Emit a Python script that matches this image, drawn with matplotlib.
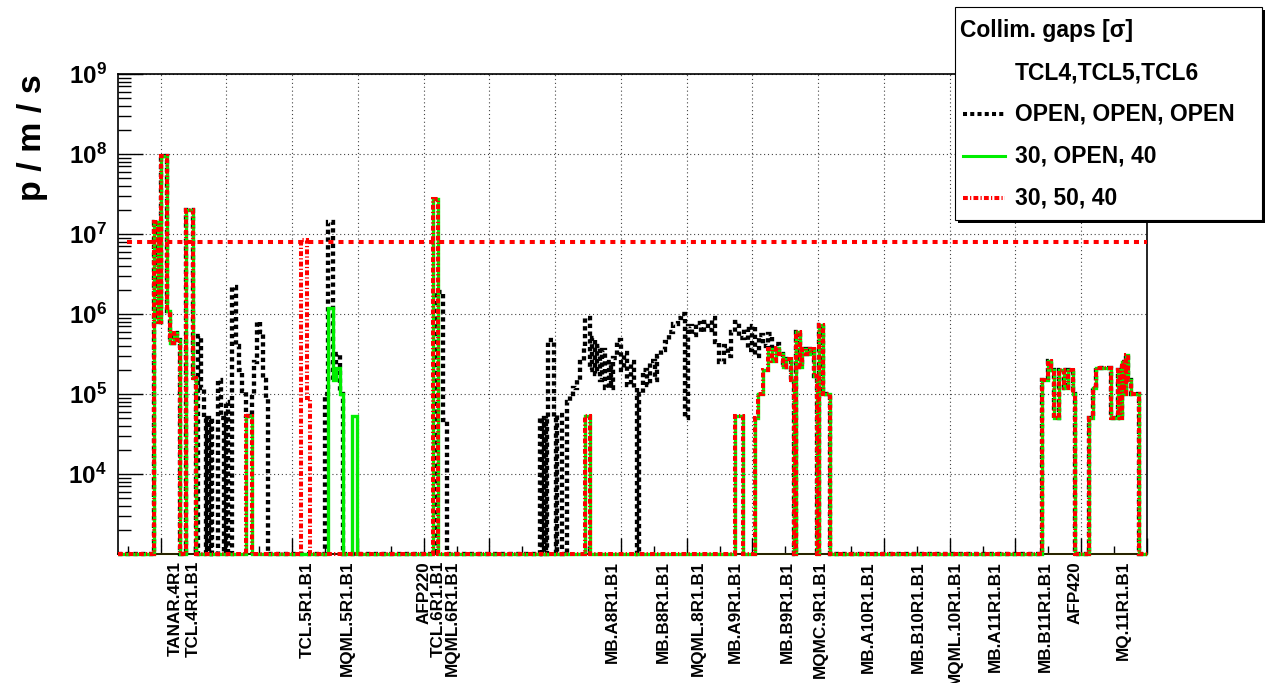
import numpy as np
import matplotlib
matplotlib.use("Agg")
import matplotlib.pyplot as plt
from matplotlib.patches import Rectangle
from matplotlib.lines import Line2D
from matplotlib.ticker import MultipleLocator, LogLocator, NullFormatter

plt.rcParams['font.family'] = ['Liberation Sans', 'DejaVu Sans']
plt.rcParams['font.weight'] = 'bold'
plt.rcParams['mathtext.fontset'] = 'custom'
plt.rcParams['mathtext.rm'] = 'Liberation Sans:bold'
plt.rcParams['mathtext.bf'] = 'Liberation Sans:bold'
plt.rcParams['mathtext.it'] = 'Liberation Sans:bold:italic'

# longitudinal position s [m] where each bin starts, loss rate [p/m/s] (0 = no loss)
S_MIN, S_MAX = 127.0, 440.0

open_s = [127.0, 138.0, 139.3, 140.1, 141.9, 142.8, 144.0, 145.0,
          145.9, 147.7, 149.8, 150.7, 151.4, 152.3, 153.2, 153.7,
          154.2, 154.7, 155.2, 155.7, 157.4, 158.4, 159.3, 159.9,
          160.5, 161.7, 162.9, 163.8, 164.8, 166.0, 167.8, 168.4,
          169.3, 170.2, 171.1, 172.1, 172.7, 190.0, 190.9, 192.4,
          193.4, 194.6, 195.5, 223.5, 225.9, 227.2, 255.5, 256.1,
          256.7, 257.3, 257.6, 257.9, 259.7, 260.3, 260.6, 262.2,
          263.7, 264.6, 265.5, 266.7, 267.6, 268.6, 269.2, 270.7,
          271.3, 272.2, 272.8, 273.7, 274.3, 275.2, 276.2, 277.1,
          277.7, 278.9, 280.1, 281.0, 281.9, 282.9, 284.1, 285.0,
          285.6, 286.8, 288.0, 288.9, 290.2, 291.1, 292.3, 293.5,
          294.7, 295.9, 297.2, 298.4, 299.6, 300.5, 301.7, 302.9,
          304.2, 305.4, 306.6, 307.8, 308.7, 309.9, 311.2, 312.4,
          313.6, 314.8, 316.0, 317.3, 318.5, 319.7, 320.9, 322.1,
          323.3, 324.6, 325.8, 327.0, 328.2, 329.4, 330.3, 331.6,
          332.5, 333.1, 334.3, 335.2, 336.4, 337.6, 338.6, 339.5,
          340.1, 341.3, 343.7, 408.0, 409.8, 410.7, 411.6, 413.1,
          414.7, 415.9, 417.4, 418.0, 422.3, 423.5, 424.4, 429.0,
          431.1, 431.7, 432.3, 432.9, 433.5, 434.1, 435.1, 437.5]
open_rate = [0, 1.4e7, 8e5, 9.5e7, 1.1e6, 4.4e5, 5.8e5, 4.7e5,
             0, 2e7, 1.6e5, 0, 5.3e5, 1.2e5, 5e4, 0,
             5e4, 0, 5e4, 0, 1.5e5, 5e4, 0, 8e4,
             0, 2.2e6, 4e5, 2e5, 1.1e5, 5.3e4, 1e5, 2.5e5,
             8e5, 6e5, 1.5e5, 9e4, 0, 1e5, 1.4e7, 1.5e5,
             3.2e5, 1e5, 0, 1.9e6, 4.8e4, 0, 5e4, 0,
             5e4, 0, 5e4, 4.7e5, 5e4, 0, 5.5e4, 0,
             8e4, 1e5, 1.2e5, 1.5e5, 2.5e5, 4e5, 9e5, 2e5,
             5e5, 1.8e5, 4e5, 1.5e5, 3.5e5, 1.2e5, 2.5e5, 1.2e5,
             2.8e5, 4.7e5, 2e5, 3.3e5, 1.3e5, 2.5e5, 1.2e5, 0,
             1e5, 2e5, 1.3e5, 2.6e5, 1.5e5, 3e5, 3.5e5, 4.5e5,
             6e5, 7.5e5, 9e5, 1e6, 5e4, 7e5, 5.5e5, 7.7e5,
             6e5, 8e5, 6.3e5, 9e5, 4.5e5, 2.5e5, 4e5, 3e5,
             6e5, 8e5, 5e5, 6.5e5, 3.5e5, 7e5, 3e5, 5.5e5,
             4e5, 5.7e5, 3.5e5, 4.2e5, 3.2e5, 2.2e5, 2.7e5, 1.5e5,
             0, 6e5, 2.2e5, 3.6e5, 3.2e5, 3.6e5, 1.7e5, 0,
             7.3e5, 1e5, 0, 1.5e5, 2.6e5, 2e5, 5e4, 2e5,
             1.2e5, 2e5, 1e5, 0, 5e4, 1.2e5, 2.1e5, 5e4,
             2e5, 5e4, 2.5e5, 1e5, 3.1e5, 1.5e5, 1e5, 0]

tcl4_s = [127.0, 138.0, 139.3, 140.1, 141.9, 142.8, 144.0, 145.0,
          145.9, 147.7, 149.8, 150.7, 166.0, 167.8, 190.9, 192.4,
          193.4, 194.6, 195.5, 198.2, 199.8, 222.9, 224.4, 268.9,
          270.7, 314.8, 317.0, 320.9, 321.8, 323.3, 324.6, 325.8,
          327.0, 328.2, 329.4, 330.3, 331.6, 332.5, 333.1, 334.3,
          335.2, 336.4, 337.6, 338.6, 339.5, 340.1, 341.3, 343.7,
          408.0, 409.8, 410.7, 411.6, 413.1, 414.7, 415.9, 417.4,
          418.0, 422.3, 423.5, 424.4, 429.0, 431.1, 431.7, 432.3,
          432.9, 433.5, 434.1, 435.1, 437.5]
tcl4_rate = [0, 1.4e7, 8e5, 9.5e7, 1.1e6, 4.4e5, 5.8e5, 4.7e5,
             0, 2e7, 1.6e5, 0, 5.3e4, 0, 1.2e6, 1.5e5,
             2.1e5, 1e5, 0, 5.3e4, 0, 2.7e7, 0, 5.3e4,
             0, 5.3e4, 0, 5e4, 1e5, 2e5, 3.6e5, 2.6e5,
             3.8e5, 3.2e5, 2.2e5, 2.7e5, 1.5e5, 0, 6e5, 2.2e5,
             3.6e5, 3.2e5, 3.6e5, 1.7e5, 0, 7.3e5, 1e5, 0,
             1.5e5, 2.6e5, 2e5, 5e4, 2e5, 1.2e5, 2e5, 1e5,
             0, 5e4, 1.2e5, 2.1e5, 5e4, 2e5, 5e4, 2.5e5,
             1e5, 3.1e5, 1.5e5, 1e5, 0]

tcl45_s = [127.0, 138.0, 139.3, 140.1, 141.9, 142.8, 144.0, 145.0,
           145.9, 147.7, 149.8, 150.7, 166.0, 167.8, 182.7, 184.5,
           185.4, 222.9, 224.4, 268.9, 270.7, 314.8, 317.0, 320.9,
           321.8, 323.3, 324.6, 325.8, 327.0, 328.2, 329.4, 330.3,
           331.6, 332.5, 333.1, 334.3, 335.2, 336.4, 337.6, 338.6,
           339.5, 340.1, 341.3, 343.7,
           408.0, 409.8, 410.7, 411.6, 413.1, 414.7, 415.9, 417.4,
           418.0, 422.3, 423.5, 424.4, 429.0, 431.1, 431.7, 432.3,
           432.9, 433.5, 434.1, 435.1, 437.5]
tcl45_rate = [0, 1.4e7, 8e5, 9.5e7, 1.1e6, 4.4e5, 5.8e5, 4.7e5,
              0, 2e7, 1.6e5, 0, 5.3e4, 0, 8.5e6, 9e4,
              0, 2.7e7, 0, 5.3e4, 0, 5.3e4, 0, 5e4,
              1e5, 2e5, 3.6e5, 2.6e5, 3.8e5, 3.2e5, 2.2e5, 2.7e5,
              1.5e5, 0, 6e5, 2.2e5, 3.6e5, 3.2e5, 3.6e5, 1.7e5,
              0, 7.3e5, 1e5, 0,
              1.5e5, 2.6e5, 2e5, 5e4, 2e5, 1.2e5, 2e5, 1e5,
              0, 5e4, 1.2e5, 2.1e5, 5e4, 2e5, 5e4, 2.5e5,
              1e5, 3.1e5, 1.5e5, 1e5, 0]

# quench limit
limit_rate = 8e6
limit_start = 129.7

element_names = ['TANAR.4R1', 'TCL.4R1.B1', 'TCL.5R1.B1', 'MQML.5R1.B1',
                 'AFP220', 'TCL.6R1.B1', 'MQML.6R1.B1', 'MB.A8R1.B1',
                 'MB.B8R1.B1', 'MQML.8R1.B1', 'MB.A9R1.B1', 'MB.B9R1.B1',
                 'MQMC.9R1.B1', 'MB.A10R1.B1', 'MB.B10R1.B1', 'MQML.10R1.B1',
                 'MB.A11R1.B1', 'MB.B11R1.B1', 'AFP420', 'MQ.11R1.B1']
element_s = [144.4, 149.8, 184.5, 196.7, 220.2, 224.4, 228.7, 277.4,
             292.9, 303.6, 314.8, 330.7, 340.7, 355.3, 370.5, 381.8,
             394.0, 409.2, 418.0, 432.9]

Y_MIN, Y_MAX = 1e3, 1e9

W, H = 1265, 683
fig = plt.figure(figsize=(W / 100, H / 100), dpi=100)
fig.patch.set_facecolor('white')


def fx(px):
    return px / W


def fy(py):
    return 1 - py / H


ax = fig.add_axes([fx(118), fy(554), (1147 - 118) / W, (554 - 74) / H])
ax.set_xlim(S_MIN, S_MAX)
ax.set_yscale('log')
ax.set_ylim(Y_MIN, Y_MAX)

# axis ticks, ROOT style (inside, left/bottom only)
ax.xaxis.set_major_locator(MultipleLocator(20))
ax.xaxis.set_minor_locator(MultipleLocator(10))
ax.tick_params(axis='x', which='major', direction='in', length=11.5, width=1.0,
               labelbottom=False, top=False)
ax.tick_params(axis='x', which='minor', direction='in', length=5.8, width=1.0, top=False)
ax.set_yticks([1e4, 1e5, 1e6, 1e7, 1e8, 1e9])
ax.set_yticklabels([r'$\mathbf{10^{%d}}$' % k for k in range(4, 10)])
ax.yaxis.set_minor_locator(LogLocator(base=10, subs=range(2, 10), numticks=20))
ax.yaxis.set_minor_formatter(NullFormatter())
ax.tick_params(axis='y', which='major', direction='in', length=18, width=1.0,
               labelsize=17.5, pad=8, right=False)
ax.tick_params(axis='y', which='minor', direction='in', length=9.4, width=1.0, right=False)
for sp in ax.spines.values():
    sp.set_linewidth(1.2)

ax.grid(True, which='major', color='#444444', linestyle=(0, (1, 2.5)), linewidth=0.8)
ax.set_axisbelow(True)

# empty reference histogram along the floor
ax.axhline(Y_MIN, color='#f0e000', lw=1.5, zorder=1.5, clip_on=False)


def draw_hist(starts, rates, **kw):
    assert len(starts) == len(rates)
    edges = np.append(starts, S_MAX)
    vals = np.maximum(np.asarray(rates, dtype=float), Y_MIN)
    ax.stairs(vals, edges, baseline=None, fill=False, clip_on=False, **kw)


draw_hist(open_s, open_rate, color='black', lw=3.1, linestyle=(0, (1.0, 0.8)), zorder=2)
draw_hist(tcl4_s, tcl4_rate, color='#00ee00', lw=2.4, zorder=3)
ax.plot([limit_start, S_MAX], [limit_rate, limit_rate], color='red', lw=2.9,
        linestyle=(0, (1.25, 1.25)), zorder=4)
draw_hist(tcl45_s, tcl45_rate, color='red', lw=2.9, linestyle=(0, (1.2, 0.55, 0.3, 0.55)), zorder=5)

# element names under the axis
for name, s in zip(element_names, element_s):
    ax.annotate(name, xy=(s, 0), xycoords=('data', 'axes fraction'), xytext=(0, -7),
                textcoords='offset pixels', rotation=90, ha='center', va='top',
                fontsize=12.3, fontweight='bold', annotation_clip=False)

fig.text(fx(32), fy(74), 'p / m / s', rotation=90, ha='center', va='top',
         fontsize=24.5, fontweight='bold')

# legend box with drop shadow
box_w, box_h = (1262 - 955) / W, (220 - 7) / H
fig.add_artist(Rectangle((fx(958), fy(223)), box_w, box_h, transform=fig.transFigure,
                         facecolor='black', edgecolor='none', zorder=10))
fig.add_artist(Rectangle((fx(955), fy(220)), box_w, box_h, transform=fig.transFigure,
                         facecolor='white', edgecolor='black', lw=0.8, zorder=11))
fig.text(fx(960), fy(31), 'Collim. gaps [σ]', ha='left', va='center',
         fontsize=16.5, fontweight='bold', zorder=12)
fig.text(fx(1015), fy(73), 'TCL4,TCL5,TCL6', ha='left', va='center',
         fontsize=16.5, fontweight='bold', zorder=12)
legend_rows = [('OPEN, OPEN, OPEN', dict(color='black', lw=2.9, linestyle=(0, (1.0, 0.8)))),
               ('30, OPEN, 40', dict(color='#00ee00', lw=2.2)),
               ('30, 50, 40', dict(color='red', lw=2.9, linestyle=(0, (1.2, 0.55, 0.3, 0.55))))]
for i, (label, style) in enumerate(legend_rows):
    yy = fy(114 + 42 * i)
    fig.add_artist(Line2D([fx(963), fx(1005)], [yy, yy], transform=fig.transFigure,
                          zorder=12, **style))
    fig.text(fx(1015), yy, label, ha='left', va='center', fontsize=16.5,
             fontweight='bold', zorder=12)

fig.savefig('out.png', dpi=100)
